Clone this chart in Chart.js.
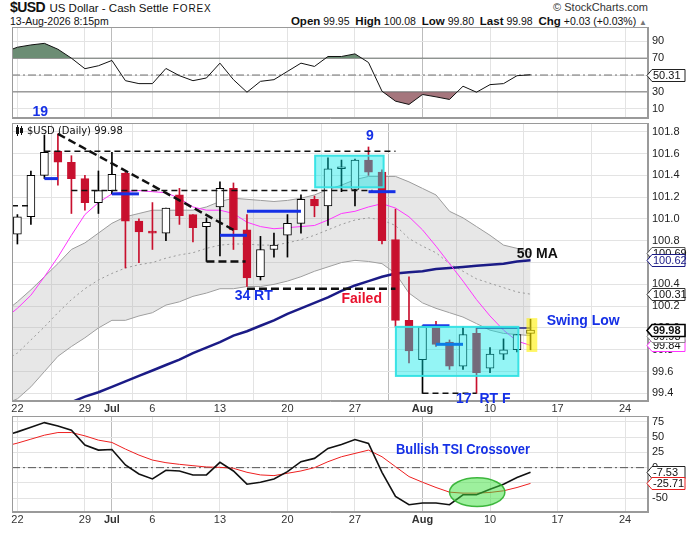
<!DOCTYPE html>
<html>
<head>
<meta charset="utf-8">
<title>$USD US Dollar - Cash Settle FOREX</title>
<script src="https://cdn.jsdelivr.net/npm/chart.js@4.4.1/dist/chart.umd.min.js"></script>
<style>
  html, body { margin: 0; padding: 0; background: #fff; }
  #page { position: relative; width: 690px; height: 539px; overflow: hidden; font-family: 'Liberation Sans', Arial, sans-serif; color: #111; }
  #page canvas { position: absolute; left: 0; }
  .hd { position: absolute; white-space: nowrap; line-height: 14px; }
  .hd b.k { font-size: 11.5px; }
</style>
</head>
<body>
<div id="page">
  <div class="hd" style="left:10px;top:0;"><b style="font-size:14px;letter-spacing:-0.6px">$USD</b> <span style="font-size:11.5px">US Dollar - Cash Settle</span> <span style="font-size:10px;letter-spacing:0.9px">FOREX</span></div>
  <div class="hd" style="left:10px;top:14px;font-size:10.5px">13-Aug-2026 8:15pm</div>
  <div class="hd" style="right:42px;top:0;font-size:11px;color:#333">&copy; StockCharts.com</div>
  <div class="hd" style="right:43px;top:14px;font-size:10.5px"><b class="k">Open</b> 99.95 &nbsp;<b class="k">High</b> 100.08 &nbsp;<b class="k">Low</b> 99.80 &nbsp;<b class="k">Last</b> 99.98 &nbsp;<b class="k">Chg</b> +0.03 (+0.03%) <span style="color:#777;font-size:8px">&#9650;</span></div>
  <canvas id="rsiChart" width="690" height="94" style="top:26px"></canvas>
  <canvas id="priceChart" width="690" height="292" style="top:122px"></canvas>
  <canvas id="tsiChart" width="690" height="114" style="top:414px"></canvas>
</div>
<script>
// sessions: 22 Jun .. 13 Aug 2026, one slot per trading day
const xMin = -0.4, xMax = 46.7;
const tickSlots  = [0, 5, 7, 10, 15, 20, 25, 30, 35, 40, 45];
const tickLabels = ['22', '29', 'Jul', '6', '13', '20', '27', 'Aug', '10', '17', '24'];
const monthTicks = ['Jul', 'Aug'];

const opens  = [100.86, 101.02, 101.40, 101.62, 101.52, 101.37, 101.15, 101.26, 101.42, 100.98,
                100.88, 100.87, 101.22, 101.04, 100.93, 101.11, 101.28, 100.90, 100.47, 100.72,
                100.85, 100.96, 101.18, 101.12, 101.46, 101.27, 101.54, 101.43, 100.81, 100.07,
                99.71, 100.01, 99.87, 99.65, 99.95, 99.63, 99.76, 99.80, 99.95];
const highs  = [101.04, 101.44, 101.77, 101.78, 101.58, 101.40, 101.44, 101.61, 101.43, 101.00,
                101.15, 101.10, 101.28, 101.04, 101.01, 101.34, 101.33, 101.04, 100.84, 100.87,
                101.04, 101.22, 101.21, 101.56, 101.54, 101.55, 101.66, 101.45, 101.09, 100.47,
                100.02, 100.06, 99.89, 100.01, 100.00, 99.82, 99.90, 99.94, 100.08];
const lows   = [100.77, 100.95, 101.37, 101.31, 101.05, 101.08, 101.05, 101.23, 100.55, 100.60,
                100.72, 100.80, 100.95, 100.79, 100.61, 100.66, 100.72, 100.38, 100.44, 100.65,
                100.65, 100.87, 101.02, 100.94, 101.25, 101.12, 101.40, 100.77, 100.01, 99.68,
                99.40, 99.83, 99.62, 99.62, 99.40, 99.59, 99.71, 99.78, 99.80];
const closes = [101.02, 101.40, 101.61, 101.52, 101.37, 101.15, 101.26, 101.41, 100.98, 100.88,
                100.87, 101.10, 101.03, 100.92, 100.97, 101.28, 100.90, 100.46, 100.72, 100.76,
                100.96, 101.18, 101.12, 101.46, 101.46, 101.54, 101.43, 100.80, 100.07, 99.79,
                100.01, 99.85, 99.65, 99.94, 99.59, 99.76, 99.80, 99.94, 99.98];

// overlays: first value sits on the left edge of the plot, then one per session
const bbUpper  = [100.20, 100.24, 100.35, 100.47, 100.59, 100.72, 100.78, 100.87, 100.96, 101.02, 101.05,
                  101.08, 101.08, 101.08, 101.08, 101.11, 101.16, 101.19, 101.18, 101.17, 101.16,
                  101.17, 101.19, 101.22, 101.27, 101.31, 101.36, 101.39, 101.39, 101.39, 101.34,
                  101.28, 101.22, 101.07, 101.01, 100.93, 100.85, 100.76, 100.73, 100.69];
const bbLower  = [99.33, 99.35, 99.46, 99.60, 99.74, 99.83, 99.91, 100.00, 100.07, 100.07, 100.11,
                  100.14, 100.21, 100.24, 100.29, 100.32, 100.36, 100.36, 100.38, 100.38, 100.40,
                  100.43, 100.47, 100.52, 100.56, 100.60, 100.62, 100.61, 100.59, 100.50, 100.32,
                  100.23, 100.18, 100.14, 100.10, 100.04, 99.98, 99.95, 99.94, 99.93];
const bbMiddle = [99.74, 99.77, 99.89, 100.01, 100.14, 100.26, 100.36, 100.44, 100.50, 100.55, 100.58,
                  100.60, 100.64, 100.67, 100.69, 100.73, 100.76, 100.77, 100.77, 100.76, 100.76,
                  100.78, 100.81, 100.85, 100.90, 100.95, 100.99, 101.01, 100.99, 100.94, 100.82,
                  100.75, 100.69, 100.59, 100.52, 100.45, 100.41, 100.37, 100.33, 100.31];
const ema10    = [100.14, 100.18, 100.30, 100.47, 100.65, 100.85, 101.04, 101.15, 101.23, 101.25, 101.26,
                  101.25, 101.24, 101.19, 101.11, 101.08, 101.08, 101.05, 100.97, 100.93, 100.91,
                  100.92, 100.93, 100.94, 100.99, 101.05, 101.07, 101.11, 101.14, 101.10, 101.02,
                  100.90, 100.75, 100.59, 100.43, 100.26, 100.11, 99.98, 99.88, 99.84];
const ma50     = [99.10, 99.12, 99.17, 99.22, 99.27, 99.32, 99.37, 99.41, 99.46, 99.51, 99.56,
                  99.61, 99.66, 99.71, 99.77, 99.82, 99.87, 99.93, 99.97, 100.02, 100.07,
                  100.13, 100.18, 100.23, 100.28, 100.34, 100.39, 100.43, 100.47, 100.50, 100.51,
                  100.52, 100.54, 100.55, 100.56, 100.57, 100.58, 100.59, 100.61, 100.62];
const rsi      = [80.6, 83, 85.7, 87.6, 80.6, 70, 57.5, 61, 67.3, 43.3, 39.8,
                  39.8, 57.8, 49.2, 43.3, 46.5, 64.1, 44.5, 29.6, 42.5, 44.5,
                  54.3, 64.1, 60.2, 72, 72, 75.1, 64.9, 30.8, 19, 15.1,
                  26.9, 24.1, 21, 36.7, 29.6, 38.6, 39.8, 49.2, 50.31];
const tsi      = [55.7, 58.4, 66, 73.5, 68.1, 61.1, 36.8, 28.6, 29.7, 4.3, -10.3,
                  -18.4, -4.3, -5.4, -11.9, -11.9, 8.6, -5.4, -27, -23.8, -18.4,
                  -6.5, 9.7, 15.1, 31.4, 37.8, 45.9, 39.5, -7.6, -47, -60.5,
                  -57.8, -57.8, -60.5, -44.3, -44.3, -35.1, -27, -16.2, -7.53];
const tsiSignal = [37.8, 40, 46.5, 53, 57.3, 57.3, 51.9, 44.9, 41.1, 30.3, 20.5,
                   12.4, 8.1, 5.4, 3.2, 1.1, 0.5, -1.1, -7.6, -11.9, -13,
                   -9.2, -5.4, 0, 9.7, 17.8, 23.2, 28.6, 17.8, 1.6, -14.6,
                   -23.8, -32.4, -40, -41.6, -41.6, -40.5, -37.8, -32.4, -25.71];

// hand-drawn marks on the price panel: [fromSlot, toSlot, level]
const trendLine   = [[3, 101.78], [16, 100.90]];
const thinDashes  = [[2, 28, 101.62], [4, 26.3, 101.26], [-0.4, 0.95, 101.12], [30, 34, 99.40]];
const thickDashes = [[14, 16.9, 100.61], [17, 28, 100.36]];
const pivotMarks  = [[2, 3, 101.37], [7, 9, 101.23], [15, 17, 100.85], [17, 21, 101.07],
                     [26, 28, 101.25], [30, 32, 100.02], [31, 33, 99.85]];
const swingLine   = [34, 38, 100.00];
const rsiLevels   = [70, 30];

const RED = '#c8102e', BLUE = '#1530e6', NAVY = '#1b1b86', MAGENTA = '#ff35ff';

Chart.defaults.font.family = "'Liberation Sans', Arial, sans-serif";
Chart.defaults.font.size = 11;
Chart.defaults.color = '#222';
Chart.defaults.animation = false;
Chart.defaults.plugins.legend.display = false;
Chart.defaults.plugins.tooltip.enabled = false;

const sessions = opens.map((_, i) => i);
const up = i => closes[i] >= opens[i];
const slotX = i => (i === 0 ? xMin : i - 1);
const series = vals => vals.map((v, i) => ({ x: slotX(i), y: v }));
const flat = (a, b, v) => [{ x: a, y: v }, { x: b, y: v }];

function lineSet(data, color, width, extra) {
  return Object.assign({ type: 'line', data, borderColor: color, borderWidth: width,
    pointRadius: 0, fill: false, tension: 0 }, extra || {});
}

function xAxis(showLabels, height) {
  return {
    type: 'linear', min: xMin, max: xMax, offset: false,
    afterBuildTicks: s => { s.ticks = tickSlots.map(v => ({ value: v })); },
    afterFit: s => { s.height = height; s.paddingLeft = 0; s.paddingRight = 0; },
    ticks: {
      display: showLabels, autoSkip: false, maxRotation: 0, padding: 1, color: '#333',
      callback: (v, i) => tickLabels[i],
      font: c => ({ size: 11, weight: monthTicks.includes(tickLabels[c.index]) ? 'bold' : 'normal' })
    },
    grid: { drawTicks: false, color: c => monthTicks.includes(tickLabels[c.index]) ? '#bcbcbc' : '#e3e3e3' },
    border: { color: '#9a9a9a' }
  };
}

function yAxis(min, max, ticks, fmt) {
  return {
    position: 'right', min, max,
    afterBuildTicks: s => { s.ticks = ticks.map(v => ({ value: v })); },
    afterFit: s => { s.width = 42; s.paddingTop = 0; s.paddingBottom = 0; },
    ticks: { padding: 4, color: '#222', callback: v => fmt(v) },
    grid: { drawTicks: false, color: '#e3e3e3' },
    border: { color: '#9a9a9a' }
  };
}

function drawTag(chart, t) {
  const { ctx, chartArea: a } = chart;
  const y = Math.round(chart.scales.y.getPixelForValue(t.v)) + 0.5;
  const x0 = a.right - 1, x1 = x0 + 5, x2 = 685, h = 12;
  ctx.save();
  ctx.beginPath();
  ctx.moveTo(x0, y); ctx.lineTo(x1, y - h / 2); ctx.lineTo(x2, y - h / 2);
  ctx.lineTo(x2, y + h / 2); ctx.lineTo(x1, y + h / 2); ctx.closePath();
  ctx.fillStyle = '#fff'; ctx.fill();
  ctx.strokeStyle = t.color; ctx.lineWidth = t.bold ? 1.6 : 1; ctx.stroke();
  ctx.fillStyle = t.textColor || '#111';
  ctx.font = (t.bold ? 'bold ' : '') + "11px 'Liberation Sans', Arial";
  ctx.textBaseline = 'middle'; ctx.textAlign = 'left';
  ctx.fillText(t.text, x1 + 1, y + 0.5);
  ctx.restore();
}

function decor(cfg) {
  return {
    id: 'decor',
    afterDatasetsDraw(chart) {
      const { ctx, chartArea: a, scales: { x, y } } = chart;
      ctx.save();
      ctx.beginPath(); ctx.rect(a.left, a.top, a.right - a.left, a.bottom - a.top); ctx.clip();
      (cfg.boxes || []).forEach(b => {
        const l = x.getPixelForValue(b.from), r = x.getPixelForValue(b.to);
        const t = y.getPixelForValue(b.top), bt = y.getPixelForValue(b.bottom);
        ctx.fillStyle = b.fill; ctx.fillRect(l, t, r - l, bt - t);
        if (b.stroke) { ctx.strokeStyle = b.stroke; ctx.lineWidth = 2; ctx.strokeRect(l, t, r - l, bt - t); }
      });
      (cfg.ellipses || []).forEach(e => {
        const cx = x.getPixelForValue(e.x), cy = y.getPixelForValue(e.y);
        const rx = Math.abs(x.getPixelForValue(e.x + e.dx) - cx);
        const ry = Math.abs(y.getPixelForValue(e.y + e.dy) - cy);
        ctx.beginPath(); ctx.ellipse(cx, cy, rx, ry, 0, 0, Math.PI * 2);
        ctx.fillStyle = e.fill; ctx.fill();
        ctx.strokeStyle = e.stroke; ctx.lineWidth = 1.5; ctx.stroke();
      });
      ctx.restore();
      ctx.save();
      ctx.strokeStyle = '#9a9a9a'; ctx.lineWidth = 1;
      ctx.strokeRect(Math.round(a.left) + 0.5, Math.round(a.top) + 0.5,
        Math.round(a.right - a.left) - 1, Math.round(a.bottom - a.top) - 1);
      ctx.restore();
    },
    afterDraw(chart) {
      const { ctx, scales: { x, y } } = chart;
      ctx.save();
      (cfg.notes || []).forEach(n => {
        ctx.font = n.font || "bold 14px 'Liberation Sans', Arial";
        ctx.fillStyle = n.color; ctx.textAlign = 'center'; ctx.textBaseline = 'middle';
        const px = x.getPixelForValue(n.x), py = y.getPixelForValue(n.y);
        if (n.fit) {
          const w = ctx.measureText(n.text).width;
          ctx.save(); ctx.translate(px, py); ctx.scale(n.fit / w, 1);
          ctx.fillText(n.text, 0, 0); ctx.restore();
        } else {
          ctx.fillText(n.text, px, py);
        }
      });
      ctx.restore();
      (cfg.tags || []).forEach(t => drawTag(chart, t));
      if (cfg.extra) cfg.extra(chart);
    }
  };
}

// ---------- RSI panel ----------
new Chart(document.getElementById('rsiChart'), {
  type: 'line',
  data: { datasets: [
    lineSet(flat(xMin, xMax, 50), '#707070', 1, { borderDash: [8, 3, 2, 3], order: 5 }),
    ...rsiLevels.map(v => lineSet(flat(xMin, xMax, v), '#707070', 1, { order: 4 })),
    lineSet(series(rsi), 'rgba(0,0,0,0)', 0, { fill: { target: { value: 30 }, above: 'rgba(0,0,0,0)', below: '#a5767d' }, order: 6 }),
    lineSet(series(rsi), '#111', 1, { fill: { target: { value: 70 }, above: '#6c8d74', below: 'rgba(0,0,0,0)' }, order: 1 })
  ] },
  options: {
    responsive: false,
    layout: { padding: { left: 12, right: 0, top: 1, bottom: 2 } },
    scales: { x: xAxis(false, 0), y: yAxis(-1, 107, [10, 30, 50, 70, 90], v => String(v)) }
  },
  plugins: [decor({
    tags: [{ v: 50.31, text: '50.31', color: '#222' }],
    notes: [{ text: '19', x: 1.7, y: 6.5, color: BLUE }]
  })]
});

// ---------- price panel ----------
const priceSets = [
  lineSet(series(bbUpper), '#9c9c9c', 1, { fill: '+1', backgroundColor: 'rgba(175,175,175,0.3)', order: 20 }),
  lineSet(series(bbLower), '#9c9c9c', 1, { order: 20 }),
  lineSet(series(bbMiddle), '#9a9a9a', 1, { borderDash: [2, 3], order: 19 }),
  lineSet(series(ma50), NAVY, 2.5, { order: 18 }),
  lineSet(series(ema10), MAGENTA, 1, { order: 17 }),
  { type: 'bar', data: sessions.map(i => ({ x: i, y: [lows[i], highs[i]] })),
    backgroundColor: sessions.map(i => (up(i) ? '#000' : RED)),
    barThickness: 1, grouped: false, order: 11 },
  { type: 'bar', data: sessions.map(i => ({ x: i, y: [opens[i], closes[i]] })),
    backgroundColor: sessions.map(i => (up(i) ? '#fff' : RED)),
    borderColor: sessions.map(i => (up(i) ? '#000' : RED)),
    borderWidth: 1, borderSkipped: false, barThickness: 8, minBarLength: 2, grouped: false, order: 10 },
  lineSet(trendLine.map(p => ({ x: p[0], y: p[1] })), '#111', 2.5, { borderDash: [8, 4], order: 2 }),
  ...thinDashes.map(d => lineSet(flat(d[0], d[1], d[2]), '#111', 1.5, { borderDash: [6, 4], order: 2 })),
  ...thickDashes.map(d => lineSet(flat(d[0], d[1], d[2]), '#111', 2.5, { borderDash: [8, 4], order: 2 })),
  ...pivotMarks.map(d => lineSet(flat(d[0], d[1], d[2]), BLUE, 3, { order: 1 })),
  lineSet(flat(swingLine[0], swingLine[1], swingLine[2]), NAVY, 1.5, { order: 1 })
];

new Chart(document.getElementById('priceChart'), {
  type: 'line',
  data: { datasets: priceSets },
  options: {
    responsive: false,
    layout: { padding: { left: 12, right: 0, top: 1, bottom: 0 } },
    scales: {
      x: xAxis(true, 13),
      y: yAxis(99.33, 101.88, [99.4, 99.6, 99.8, 100.0, 100.2, 100.4, 100.6, 100.8, 101.0, 101.2, 101.4, 101.6, 101.8], v => v.toFixed(1))
    }
  },
  plugins: [decor({
    boxes: [
      { from: 22.05, to: 27.12, top: 101.58, bottom: 101.29, fill: 'rgba(0,232,232,0.42)', stroke: 'rgba(50,225,228,0.95)' },
      { from: 28.03, to: 37.1, top: 100.01, bottom: 99.56, fill: 'rgba(0,232,232,0.42)', stroke: 'rgba(50,225,228,0.95)' },
      { from: 37.7, to: 38.5, top: 100.09, bottom: 99.78, fill: 'rgba(255,240,0,0.6)' }
    ],
    notes: [
      { text: '9', x: 26.1, y: 101.76, color: BLUE },
      { text: '34 RT', x: 17.5, y: 100.29, color: BLUE },
      { text: 'Failed', x: 25.5, y: 100.26, color: '#e8112d' },
      { text: '50 MA', x: 38.5, y: 100.68, color: '#111' },
      { text: 'Swing Low', x: 41.9, y: 100.06, color: BLUE },
      { text: '17  RT F', x: 34.5, y: 99.35, color: BLUE }
    ],
    tags: [
      { v: 100.69, text: '100.69', color: '#555' },
      { v: 100.62, text: '100.62', color: NAVY, textColor: NAVY },
      { v: 100.31, text: '100.31', color: '#333' },
      { v: 99.84, text: '99.84', color: MAGENTA },
      { v: 99.93, text: '99.93', color: '#888' },
      { v: 99.98, text: '99.98', color: '#000', bold: true }
    ],
    extra(chart) {
      const { ctx, chartArea: a } = chart;
      const l = a.left, t = a.top;
      ctx.save();
      ctx.fillStyle = '#111';
      ctx.fillRect(l + 4, t + 4, 3, 7); ctx.fillRect(l + 5, t + 2, 1, 11);
      ctx.fillRect(l + 8, t + 5, 3, 5); ctx.fillRect(l + 9, t + 3, 1, 9);
      ctx.font = "10px 'DejaVu Sans', Verdana, sans-serif";
      ctx.textBaseline = 'middle'; ctx.textAlign = 'left';
      ctx.fillText('$USD (Daily) 99.98', l + 15, t + 8);
      ctx.restore();
    }
  })]
});

// ---------- TSI panel ----------
new Chart(document.getElementById('tsiChart'), {
  type: 'line',
  data: { datasets: [
    lineSet(flat(xMin, xMax, 0), '#555', 1, { borderDash: [8, 3, 2, 3], order: 5 }),
    lineSet(series(tsiSignal), '#ee2020', 1, { order: 2 }),
    lineSet(series(tsi), '#111', 1.6, { order: 1 })
  ] },
  options: {
    responsive: false,
    layout: { padding: { left: 12, right: 0, top: 2, bottom: 0 } },
    scales: { x: xAxis(true, 16), y: yAxis(-72.4, 84.3, [-50, -25, 0, 25, 50, 75], v => String(v)) }
  },
  plugins: [decor({
    ellipses: [{ x: 34.05, y: -40, dx: 2.05, dy: 23.5, fill: 'rgba(60,225,60,0.5)', stroke: 'rgba(45,175,45,0.9)' }],
    notes: [{ text: 'Bullish TSI Crossover', x: 33.0, y: 28.7, color: BLUE, fit: 134 }],
    tags: [
      { v: -7.53, text: '-7.53', color: '#222' },
      { v: -25.71, text: '-25.71', color: '#e82020' }
    ]
  })]
});
</script>
</body>
</html>
